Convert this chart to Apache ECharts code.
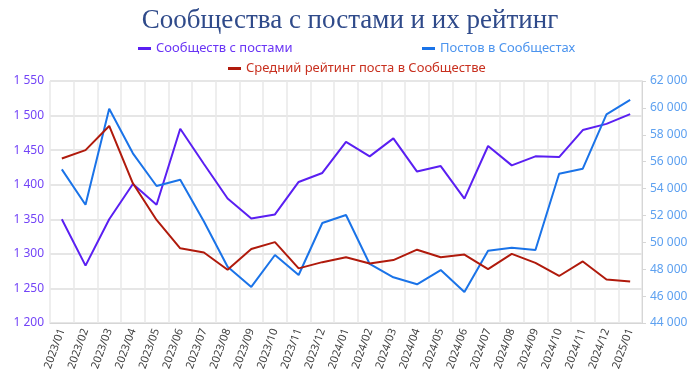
<!DOCTYPE html>
<html>
<head>
<meta charset="UTF-8">
<title>ECharts</title>
<script src="https://cdn.jsdelivr.net/npm/echarts@6/dist/echarts.min.js"></script>
</head>
<body style="margin:0">
<div id="main" style="width:700px;height:376px"></div>
<script>
var months = ['2023/01','2023/02','2023/03','2023/04','2023/05','2023/06','2023/07','2023/08','2023/09','2023/10','2023/11','2023/12',
  '2024/01','2024/02','2024/03','2024/04','2024/05','2024/06','2024/07','2024/08','2024/09','2024/10','2024/11','2024/12','2025/01'];
// left axis
var communities = [1350,1283,1350,1401,1371,1481,1430,1380,1351,1357,1404,1417,1462,1441,1467,1419,1427,1380,1456,1428,1441,1440,1479,1488,1502];
// right axis
var posts = [55430,52800,59940,56620,54190,54660,51550,48190,46680,49060,47570,51440,52030,48390,47400,46880,47940,46310,49380,49600,49430,55100,55480,59520,60590];
// drawn on the left scale as in the picture
var rating = [1438,1450,1485,1402,1349,1308,1302,1277,1307,1317,1279,1288,1295,1286,1291,1306,1295,1299,1278,1300,1287,1268,1289,1263,1260];

var leftTicks = {min: 1200, max: 1550, interval: 50};
var rightTicks = {min: 44000, max: 62000, interval: 2000};

var names = ['Сообществ с постами', 'Постов в Сообщестах', 'Средний рейтинг поста в Сообществе'];
var colors = ['#5a1ff2', '#1a73e8', '#b01a0c'];

function spaced(v) {
  return String(v).replace(/\B(?=(\d{3})+(?!\d))/g, ' ');
}

var myChart = echarts.init(document.getElementById('main'));
var legendBase = {
  icon: 'rect', itemWidth: 13, itemHeight: 3, itemGap: 8
};
var option = {
  animation: false,
  title: {
    text: 'Сообщества с постами и их рейтинг',
    left: 'center', top: 2,
    textStyle: {fontFamily: 'Liberation Serif', fontWeight: 'normal', fontSize: 27, color: '#2f4a8a'}
  },
  legend: [
    Object.assign({}, legendBase, {data: [names[0]], left: 133, top: 37, textStyle: {fontFamily: 'Noto Sans', fontSize: 13, color: '#6a35f5'}}),
    Object.assign({}, legendBase, {data: [names[1]], left: 417, top: 37, textStyle: {fontFamily: 'Noto Sans', fontSize: 13, color: '#4c94ee'}}),
    Object.assign({}, legendBase, {data: [names[2]], left: 223, top: 57, textStyle: {fontFamily: 'Noto Sans', fontSize: 13, color: '#c8301f'}})
  ],
  grid: {left: 50, right: 58, top: 81, bottom: 53},
  xAxis: {
    type: 'category',
    data: months,
    boundaryGap: true,
    axisLine: {lineStyle: {color: '#d6d6d6'}},
    axisTick: {show: false},
    splitLine: {show: true, lineStyle: {color: '#e8e8e8', width: 1.5}},
    axisLabel: {rotate: 70, fontSize: 11, color: '#404040', fontFamily: 'Noto Sans', margin: 6, interval: 0}
  },
  yAxis: [
    {
      type: 'value', position: 'left',
      min: leftTicks.min, max: leftTicks.max, interval: leftTicks.interval,
      axisLine: {show: false}, axisTick: {show: false},
      splitLine: {lineStyle: {color: '#e6e6e6', width: 2}},
      axisLabel: {color: '#7344f7', fontSize: 12, fontFamily: 'Noto Sans', margin: 6, formatter: spaced}
    },
    {
      type: 'value', position: 'right',
      min: rightTicks.min, max: rightTicks.max, interval: rightTicks.interval,
      axisLine: {show: true, lineStyle: {color: '#d6d6d6'}},
      axisTick: {show: true, length: 4, lineStyle: {color: '#d6d6d6'}},
      splitLine: {show: false},
      axisLabel: {color: '#5ea1f0', fontSize: 12, fontFamily: 'Noto Sans', margin: 8, formatter: spaced}
    }
  ],
  series: [
    {name: names[0], type: 'line', yAxisIndex: 0, data: communities, showSymbol: false, lineStyle: {width: 2, color: colors[0]}, itemStyle: {color: colors[0]}},
    {name: names[1], type: 'line', yAxisIndex: 1, data: posts, showSymbol: false, lineStyle: {width: 2, color: colors[1]}, itemStyle: {color: colors[1]}},
    {name: names[2], type: 'line', yAxisIndex: 0, data: rating, showSymbol: false, lineStyle: {width: 2, color: colors[2]}, itemStyle: {color: colors[2]}}
  ]
};
myChart.setOption(option);
</script>
</body>
</html>
